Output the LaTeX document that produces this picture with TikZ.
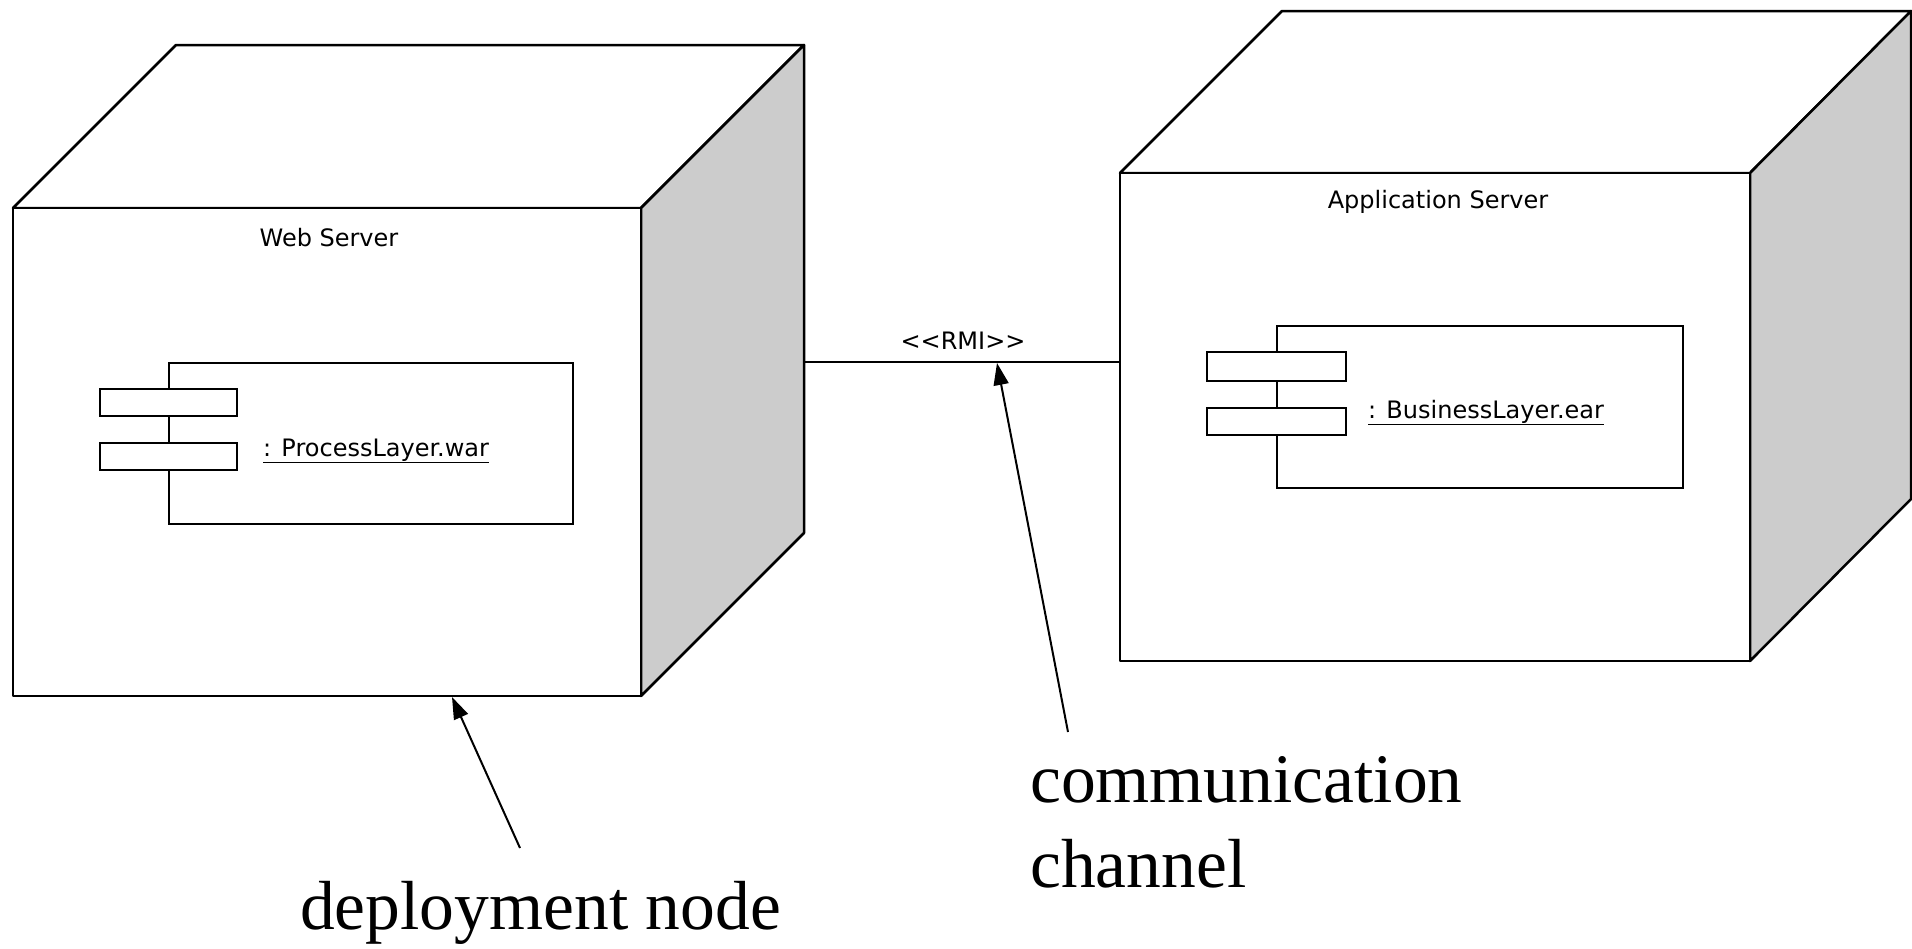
\documentclass[tikz,border=0pt]{standalone}
\usepackage{fontspec}
\setmainfont{Liberation Serif}
\newfontfamily\umlfont{DejaVu Sans}
\usetikzlibrary{arrows.meta}
\tikzset{
  face/.style={draw, line width=2.5pt, line join=round, fill=white},
  side/.style={face, fill=gray!40},
  part/.style={draw, line width=2.5pt, fill=white},
  umltext/.style={font=\umlfont\fontsize{24}{28}\selectfont, inner sep=0pt},
  callout/.style={font=\fontsize{69.5}{85}\selectfont, inner sep=0pt, align=left},
  pointer/.style={line width=2pt, -{Triangle[length=22pt,width=15pt]}}
}
\begin{document}
\begin{tikzpicture}[x=1pt,y=-1pt]
    \useasboundingbox (0,0) rectangle (1912,948);
    % web server
    \draw[face] (13,208) -- (176,45) -- (804,45) -- (641,208) -- cycle;
    \draw[side] (641,208) -- (804,45) -- (804,533) -- (641,696) -- cycle;
    \draw[face] (13,208) rectangle (641,696);
    \node[umltext, anchor=base] (web) at (329,246) {Web Server};
    \draw[part] (169,363) rectangle (573,524);
    \draw[part] (100,389) rectangle (237,416);
    \draw[part] (100,443) rectangle (237,470);
    \node[umltext, anchor=base west] (war) at (263,456) {\underline{: ProcessLayer.war}};
    % application server
    \draw[face] (1120,173) -- (1282,11) -- (1911,11) -- (1750,173) -- cycle;
    \draw[side] (1750,173) -- (1911,11) -- (1911,499) -- (1750,661) -- cycle;
    \draw[face] (1120,173) rectangle (1750,661);
    \node[umltext, anchor=base] (app) at (1438,208) {Application Server};
    \draw[part] (1277,326) rectangle (1683,488);
    \draw[part] (1207,352) rectangle (1346,381);
    \draw[part] (1207,408) rectangle (1346,435);
    \node[umltext, anchor=base west] (ear) at (1368,418) {\underline{: BusinessLayer.ear}};
    % channel
    \coordinate (webR) at (804,362);
    \coordinate (appL) at (1120,362);
    \draw[line width=2.5pt] (webR) -- (appL);
    \node[umltext, anchor=base] (rmi) at (963,349) {<{}<RMI>{}>};
    % callouts
    \node[callout, anchor=base west] (deploy) at (300,929) {deployment node};
    \node[callout, anchor=base west] (channel) at (1030,887) {communication\\channel};
    \coordinate (deployTail) at (520,848);
    \coordinate (deployTip) at (452,697);
    \coordinate (channelTail) at (1068,732);
    \coordinate (channelTip) at (997,363);
    \draw[pointer] (deployTail) -- (deployTip);
    \draw[pointer] (channelTail) -- (channelTip);
\end{tikzpicture}
\end{document}
